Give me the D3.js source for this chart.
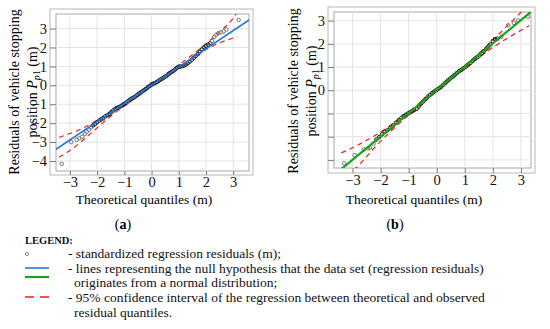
<!DOCTYPE html>
<html>
<head>
<meta charset="utf-8">
<script src="https://cdn.jsdelivr.net/npm/d3@7"></script>
<style>
  body { margin: 0; background: #fff; }
  svg { display: block; }
</style>
</head>
<body>
<svg id="chart" width="550" height="329" font-family="'Liberation Serif', 'DejaVu Serif', serif"></svg>
<script>
const width = 550;
const height = 329;
const serif = "'Liberation Serif', 'DejaVu Serif', serif";

// --- Panel (a) data ---
const qqA_x = [-3.30, -2.95, -2.75, -2.65, -2.55, -2.45, -2.38, -2.30, -2.22, -2.15, -2.08, -2.00, -1.92, -1.85, -1.78, -1.70,
  -1.62, -1.55, -1.48, -1.40, -1.33, -1.26, -1.20, -1.13, -1.06, -1.00, -0.93, -0.86, -0.80, -0.73, -0.66, -0.60, -0.53,
  -0.46, -0.40, -0.33, -0.26, -0.20, -0.13, -0.06, 0.00, 0.06, 0.13, 0.20, 0.26, 0.33, 0.40, 0.46, 0.53, 0.60, 0.66,
  0.73, 0.80, 0.86, 0.93, 1.00, 1.06, 1.13, 1.20, 1.26, 1.33, 1.40, 1.48, 1.55, 1.62, 1.70, 1.78, 1.85, 1.92, 2.00,
  2.08, 2.15, 2.22, 2.30, 2.38, 2.45, 2.55, 2.65, 2.75, 3.20];
const qqA_y = [-4.15, -3.00, -2.88, -2.80, -2.72, -2.58, -2.45, -2.35, -2.22, -2.12, -2.05, -1.95, -1.86, -1.80, -1.74, -1.64,
  -1.58, -1.52, -1.42, -1.32, -1.24, -1.20, -1.16, -1.10, -1.03, -0.98, -0.92, -0.84, -0.76, -0.70, -0.65, -0.60, -0.52,
  -0.44, -0.38, -0.31, -0.24, -0.18, -0.10, -0.03, 0.04, 0.08, 0.12, 0.18, 0.24, 0.30, 0.36, 0.42, 0.48, 0.56, 0.63,
  0.70, 0.76, 0.83, 0.92, 0.98, 1.00, 1.01, 1.05, 1.10, 1.17, 1.25, 1.35, 1.45, 1.55, 1.65, 1.78, 1.90, 2.00, 2.08,
  2.15, 2.22, 2.35, 2.55, 2.68, 2.75, 2.80, 2.85, 2.95, 3.45];
// null-hypothesis line end points
const lineA_x = [-3.6, 3.6];
const lineA_y = [-3.47, 3.47];
// 95% confidence band
const bandA_x =     [-3.40, -3.00, -2.60, -2.20, -1.80, -1.40, -1.00, -0.50, 0.00, 0.50, 1.00, 1.40, 1.80, 2.20, 2.60, 3.00, 3.15];
const bandA_upper = [-2.75, -2.55, -2.32, -2.02, -1.68, -1.30, -0.94, -0.44, 0.06, 0.56, 1.08, 1.50, 1.95, 2.45, 2.95, 3.55, 3.85];
const bandA_lower = [-3.80, -3.45, -3.00, -2.50, -2.00, -1.52, -1.10, -0.58, -0.06, 0.44, 0.94, 1.34, 1.72, 2.05, 2.30, 2.50, 2.58];

// --- Panel (b) data ---
const qqB_x = [-3.30, -2.92, -2.60, -2.45, -2.38, -2.25, -2.15, -2.05, -1.95, -1.85, -1.75, -1.65, -1.55, -1.45, -1.35, -1.25,
  -1.18, -1.10, -1.02, -0.95, -0.87, -0.80, -0.72, -0.64, -0.56, -0.48, -0.40, -0.32, -0.24, -0.16, -0.08, 0.00, 0.08,
  0.16, 0.24, 0.32, 0.40, 0.48, 0.56, 0.64, 0.72, 0.80, 0.88, 0.96, 1.04, 1.12, 1.20, 1.28, 1.36, 1.44, 1.52, 1.60,
  1.68, 1.76, 1.84, 1.92, 2.00, 2.08, 2.16, 2.30, 2.55, 2.75, 2.90, 3.25];
const qqB_y = [-3.15, -2.80, -2.55, -2.50, -2.48, -2.30, -2.12, -2.02, -1.90, -1.80, -1.72, -1.62, -1.52, -1.40, -1.28, -1.18,
  -1.12, -1.06, -1.00, -0.95, -0.90, -0.85, -0.80, -0.70, -0.58, -0.48, -0.38, -0.28, -0.20, -0.12, -0.05, 0.02, 0.08,
  0.15, 0.24, 0.33, 0.42, 0.50, 0.58, 0.66, 0.74, 0.82, 0.88, 0.95, 1.02, 1.10, 1.18, 1.27, 1.35, 1.42, 1.50, 1.58,
  1.68, 1.78, 1.88, 1.98, 2.12, 2.20, 2.22, 2.30, 2.80, 2.90, 3.00, 3.17];
const lineB_x = [-3.7, 3.4];
const lineB_y = [-3.70, 3.42];
const bandB_x =     [-3.40, -3.00, -2.60, -2.20, -1.80, -1.40, -1.00, -0.50, 0.00, 0.50, 1.00, 1.40, 1.80, 2.20, 2.60, 3.00, 3.30];
const bandB_upper = [-2.70, -2.48, -2.22, -1.95, -1.64, -1.30, -0.93, -0.44, 0.05, 0.55, 1.06, 1.48, 1.92, 2.40, 2.88, 3.35, 3.70];
const bandB_lower = [-4.00, -3.50, -3.00, -2.45, -1.96, -1.50, -1.07, -0.56, -0.05, 0.45, 0.94, 1.32, 1.68, 2.00, 2.30, 2.58, 2.78];

// --- Ticks ---
const xTicks = [-3, -2, -1, 0, 1, 2, 3];
const yTicksA = [-4, -3, -2, -1, 0, 1, 2, 3];
const yTicksB = [-3, -2, -1, 0, 1, 2, 3];
const yLabelsB = ["", "", "", "0", "1", "2", "3"];

const legendItems = [
  "- standardized regression residuals (m);",
  "- lines representing the null hypothesis that the data set (regression residuals)",
  "originates from a normal distribution;",
  "- 95% confidence interval of the regression between theoretical and observed",
  "residual quantiles."
];

const svg = d3.select("#chart");
const fmt = d => d < 0 ? "\u2212" + Math.abs(d) : String(d);

function drawPanel(p) {
  const g = svg.append("g");

  // frames
  g.append("rect")
    .attr("x", p.outer[0]).attr("y", p.outer[1])
    .attr("width", p.outer[2] - p.outer[0]).attr("height", p.outer[3] - p.outer[1])
    .attr("fill", "none").attr("stroke", "#b8b8b8");
  g.append("rect")
    .attr("x", p.inner[0]).attr("y", p.inner[1])
    .attr("width", p.inner[2] - p.inner[0]).attr("height", p.inner[3] - p.inner[1])
    .attr("fill", "#fff").attr("stroke", "#a8a8a8");

  const x = d3.scaleLinear().domain(p.xDomain).range([p.inner[0], p.inner[2]]);
  const y = d3.scaleLinear().domain(p.yDomain).range([p.inner[3], p.inner[1]]);

  const clipId = "clip-" + p.id;
  svg.append("clipPath").attr("id", clipId)
    .append("rect")
    .attr("x", p.inner[0]).attr("y", p.inner[1])
    .attr("width", p.inner[2] - p.inner[0]).attr("height", p.inner[3] - p.inner[1]);

  // grid
  g.selectAll(".vgrid").data(xTicks).join("line")
    .attr("x1", d => x(d)).attr("x2", d => x(d))
    .attr("y1", p.inner[1]).attr("y2", p.inner[3])
    .attr("stroke", "#e3e3e3").attr("stroke-width", 1);
  g.selectAll(".hgrid").data(p.yTicks).join("line")
    .attr("x1", p.inner[0]).attr("x2", p.inner[2])
    .attr("y1", d => y(d)).attr("y2", d => y(d))
    .attr("stroke", "#e3e3e3").attr("stroke-width", 1);

  // axes
  const xAxis = g.append("g")
    .attr("transform", `translate(0,${p.outer[3]})`)
    .call(d3.axisBottom(x).tickValues(xTicks).tickFormat(fmt)
      .tickSizeInner(-(p.outer[3] - p.inner[3])).tickSizeOuter(0).tickPadding(2));
  const yAxis = g.append("g")
    .attr("transform", `translate(${p.outer[0]},0)`)
    .call(d3.axisLeft(y).tickValues(p.yTicks).tickFormat((d, i) => p.yLabels[i])
      .tickSizeInner(-(p.inner[0] - p.outer[0])).tickSizeOuter(0).tickPadding(3));
  [xAxis, yAxis].forEach(a => {
    a.attr("font-family", serif).attr("font-size", 14.5);
    a.select(".domain").remove();
    a.selectAll("line").attr("stroke", "#777");
    a.selectAll("text").attr("fill", "#111");
  });

  const plot = g.append("g").attr("clip-path", `url(#${clipId})`);

  // confidence band
  const band = d3.line().curve(d3.curveMonotoneX);
  [p.bandUpper, p.bandLower].forEach(arr => {
    plot.append("path")
      .attr("d", band(p.bandX.map((v, i) => [x(v), y(arr[i])])))
      .attr("fill", "none")
      .attr("stroke", "#ee1c1c")
      .attr("stroke-width", 1.2)
      .attr("stroke-dasharray", "5,4");
  });

  // points
  plot.selectAll("circle").data(p.qx).join("circle")
    .attr("cx", d => x(d))
    .attr("cy", (d, i) => y(p.qy[i]))
    .attr("r", 1.8)
    .attr("fill", "none")
    .attr("stroke", (d, i) => Math.abs(d) > 2.2 ? "#777" : "#1a1a1a")
    .attr("stroke-width", 1);

  // null hypothesis line
  plot.append("line")
    .attr("x1", x(p.lineX[0])).attr("y1", y(p.lineY[0]))
    .attr("x2", x(p.lineX[1])).attr("y2", y(p.lineY[1]))
    .attr("stroke", p.lineColor)
    .attr("stroke-width", p.lineWidth);

  // axis titles
  svg.append("text")
    .attr("x", p.xTitleX).attr("y", 204)
    .attr("text-anchor", "middle")
    .attr("font-size", 13.5)
    .text("Theoretical quantiles (m)");
  svg.append("text")
    .attr("x", p.labelX).attr("y", 229)
    .attr("text-anchor", "middle")
    .attr("font-size", 14)
    .html(`(<tspan font-weight="bold">${p.id}</tspan>)`);

  const yt = svg.append("text")
    .attr("transform", `translate(${p.yTitleX},${p.yTitleY}) rotate(-90)`)
    .attr("text-anchor", "middle")
    .attr("font-size", 14);
  yt.append("tspan").attr("x", 0).attr("dy", 0).text("Residuals of vehicle stopping");
  const l2 = yt.append("tspan").attr("x", 0).attr("dy", 17.5);
  l2.append("tspan").text("position ");
  l2.append("tspan").attr("font-style", "italic").text("P");
  l2.append("tspan").attr("font-size", 10).attr("dy", 3).attr("font-style", "italic").text("p");
  l2.append("tspan").attr("font-size", 10).text("1");
  l2.append("tspan").attr("dy", -3).text(" (m)");
}

drawPanel({
  id: "a",
  outer: [50, 9, 253, 175],
  inner: [56, 14, 249, 171],
  xDomain: [-3.51, 3.58],
  yDomain: [-4.53, 3.77],
  yTicks: yTicksA,
  yLabels: yTicksA.map(fmt),
  qx: qqA_x, qy: qqA_y,
  lineX: lineA_x, lineY: lineA_y,
  lineColor: "#1f78e4", lineWidth: 1.6,
  bandX: bandA_x, bandUpper: bandA_upper, bandLower: bandA_lower,
  xTitleX: 144, labelX: 123,
  yTitleX: 19, yTitleY: 92
});

drawPanel({
  id: "b",
  outer: [328, 7, 535, 173],
  inner: [334, 12, 531, 168],
  xDomain: [-3.66, 3.36],
  yDomain: [-3.35, 3.37],
  yTicks: yTicksB,
  yLabels: yLabelsB,
  qx: qqB_x, qy: qqB_y,
  lineX: lineB_x, lineY: lineB_y,
  lineColor: "#19a319", lineWidth: 2.2,
  bandX: bandB_x, bandUpper: bandB_upper, bandLower: bandB_lower,
  xTitleX: 414, labelX: 395,
  yTitleX: 298, yTitleY: 91
});

// --- Legend ---
const gLeg = svg.append("g").attr("font-size", 13.5).attr("fill", "#111");
gLeg.append("text")
  .attr("x", 25).attr("y", 244)
  .attr("font-size", 10.5).attr("font-weight", "bold")
  .text("LEGEND:");
gLeg.append("circle")
  .attr("cx", 27).attr("cy", 254).attr("r", 1.6)
  .attr("fill", "none").attr("stroke", "#777").attr("stroke-width", 0.9);
gLeg.append("line").attr("x1", 25).attr("x2", 49).attr("y1", 268).attr("y2", 268)
  .attr("stroke", "#1f78e4").attr("stroke-width", 1.6);
gLeg.append("line").attr("x1", 25).attr("x2", 49).attr("y1", 277).attr("y2", 277)
  .attr("stroke", "#19a319").attr("stroke-width", 2.2);
gLeg.append("line").attr("x1", 25).attr("x2", 49).attr("y1", 297).attr("y2", 297)
  .attr("stroke", "#ee1c1c").attr("stroke-width", 1.4).attr("stroke-dasharray", "9,6");

const legPos = [[68, 257.5], [68, 272.5], [74, 287], [68, 302], [74, 316.5]];
legendItems.forEach((t, i) => {
  gLeg.append("text").attr("x", legPos[i][0]).attr("y", legPos[i][1]).text(t);
});
</script>
</body>
</html>
